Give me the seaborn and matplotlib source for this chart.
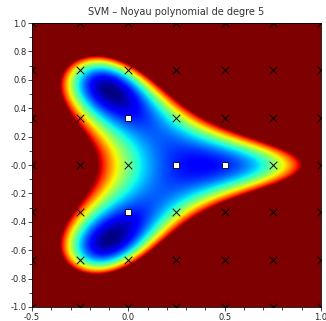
import numpy as np
import matplotlib
matplotlib.use('Agg')
import matplotlib.pyplot as plt
import seaborn as sns

sns.set_style('white')
plt.rcParams['font.family'] = ['Liberation Sans Narrow', 'DejaVu Sans']

# training grid (crosses) and the class shown as white squares
grid_x = [-0.5, -0.25, 0.0, 0.25, 0.5, 0.75, 1.0]
grid_y = [-1.0, -0.6667, -0.3333, 0.0, 0.3333, 0.6667, 1.0]
square_x = [0.0, 0.25, 0.5, 0.0]
square_y = [0.3333, 0.0, 0.0, -0.3333]
degree = 5

# build the training set
gx, gy = np.meshgrid(grid_x, grid_y)
pts = np.column_stack([gx.ravel(), gy.ravel()])
sq = np.column_stack([square_x, square_y])
is_sq = np.array([np.any(np.all(np.isclose(p, sq, atol=1e-3), axis=1)) for p in pts])
labels = np.where(is_sq, -1.0, 1.0)

# polynomial kernel svm (hard margin), dual coordinate descent
def kern(a, b):
    return (1.0 + a @ b.T) ** degree

K = kern(pts, pts)
Q = K * np.outer(labels, labels)
alpha = np.zeros(len(pts))
C = 1e4
for epoch in range(3000):
    for i in range(len(pts)):
        g = Q[i] @ alpha - 1.0
        alpha[i] = min(max(alpha[i] - g / Q[i, i], 0.0), C)

# decision function on the plotting grid
xs = np.linspace(-0.5, 1.0, 300)
ys = np.linspace(-1.0, 1.0, 300)
XX, YY = np.meshgrid(xs, ys)
field = kern(np.column_stack([XX.ravel(), YY.ravel()]), pts) @ (alpha * labels)
field = field.reshape(XX.shape)

fig, ax = plt.subplots(figsize=(3.26, 3.21), dpi=100)
fig.subplots_adjust(left=32/326, right=321/326, bottom=1-307/321, top=1-23/321)

vmin = field.min()
ax.imshow(field, extent=(-0.5, 1.0, -1.0, 1.0), origin='lower', cmap='jet',
          vmin=vmin, vmax=4.0, aspect='auto', interpolation='bilinear')

cx = pts[~is_sq, 0]
cy = pts[~is_sq, 1]
sns.scatterplot(x=cx, y=cy, marker='x', color='black', s=30, linewidth=0.7, ax=ax)
sns.scatterplot(x=square_x, y=square_y, marker='s', color='white', edgecolor='black',
                s=24, linewidth=0.6, ax=ax)

ax.set_xlim(-0.5, 1.0)
ax.set_ylim(-1.0, 1.0)
ax.set_xticks([-0.5, 0.0, 0.5, 1.0])
ax.set_xticks(np.arange(-0.5, 1.01, 0.1), minor=True)
ax.set_yticks(np.arange(-1.0, 1.01, 0.2))
ax.set_yticks(np.arange(-1.0, 1.01, 0.1), minor=True)
ax.set_xticklabels(['-0.5', '0.0', '0.5', '1.0'])
ax.set_yticklabels([f'{v:.1f}' for v in np.arange(-1.0, 1.01, 0.2)])
ax.tick_params(which='both', direction='out', length=3, width=0.6, labelsize=6,
               bottom=True, left=True, pad=1)
ax.tick_params(which='minor', length=2)
for s in ax.spines.values():
    s.set_linewidth(0.6)
    s.set_color('black')

ax.set_title('SVM – Noyau polynomial de degre 5', fontsize=7, pad=6, color='#333333')

plt.savefig('out.png', dpi=100)
